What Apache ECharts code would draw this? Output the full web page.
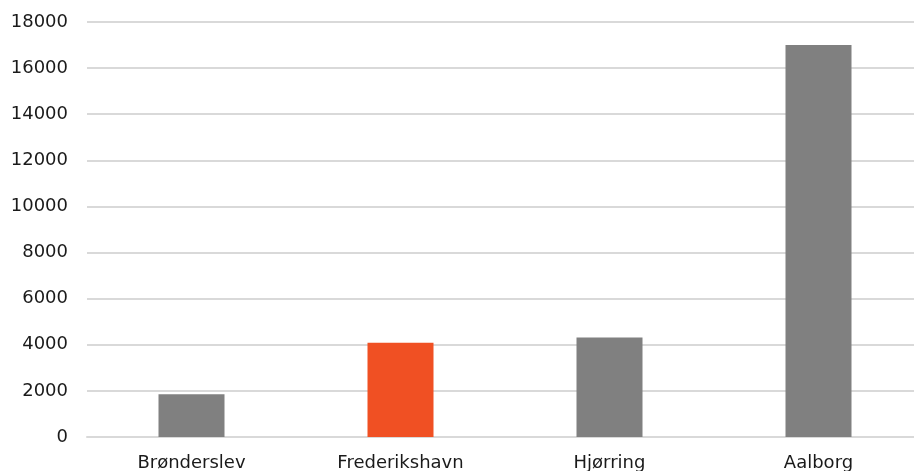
<!DOCTYPE html>
<html>
<head>
<meta charset="utf-8">
<script src="https://cdn.jsdelivr.net/npm/echarts@6/dist/echarts.min.js"></script>
<style>
  html, body { margin: 0; padding: 0; background: #fff; }
  #main { width: 914px; height: 471px; }
</style>
</head>
<body>
<div id="main"></div>
<script>
// kommuner og værdier
var categories = ['Brønderslev', 'Frederikshavn', 'Hjørring', 'Aalborg'];
var values = [1850, 4090, 4320, 17000];
var barColors = ['#808080', '#F05023', '#808080', '#808080'];
var yTicks = [0, 2000, 4000, 6000, 8000, 10000, 12000, 14000, 16000, 18000];

var chart = echarts.init(document.getElementById('main'));
var option = {
    animation: false,
    // plotområdet går lidt ud over højre kant i originalen
    grid: { left: 87, width: 836, top: 22, bottom: 34, outerBoundsMode: 'none' },
    xAxis: {
        type: 'category',
        data: categories,
        axisLine: { lineStyle: { color: '#d9d9d9', width: 2 } },
        axisTick: { show: false },
        axisLabel: { color: '#1a1a1a', fontFamily: 'DejaVu Sans', fontSize: 18, margin: 17 }
    },
    yAxis: {
        type: 'value',
        min: yTicks[0],
        max: yTicks[yTicks.length - 1],
        interval: 2000,
        axisLine: { show: false },
        axisTick: { show: false },
        splitLine: { lineStyle: { color: '#d9d9d9', width: 2 } },
        axisLabel: {
            color: '#1a1a1a', fontFamily: 'DejaVu Sans', fontSize: 18, margin: 19,
            formatter: function (v) { return String(v); }
        }
    },
    series: [{
        type: 'bar',
        barWidth: 66,
        data: values.map(function (v, i) {
            return { value: v, itemStyle: { color: barColors[i] } };
        })
    }]
};
chart.setOption(option);
</script>
</body>
</html>
